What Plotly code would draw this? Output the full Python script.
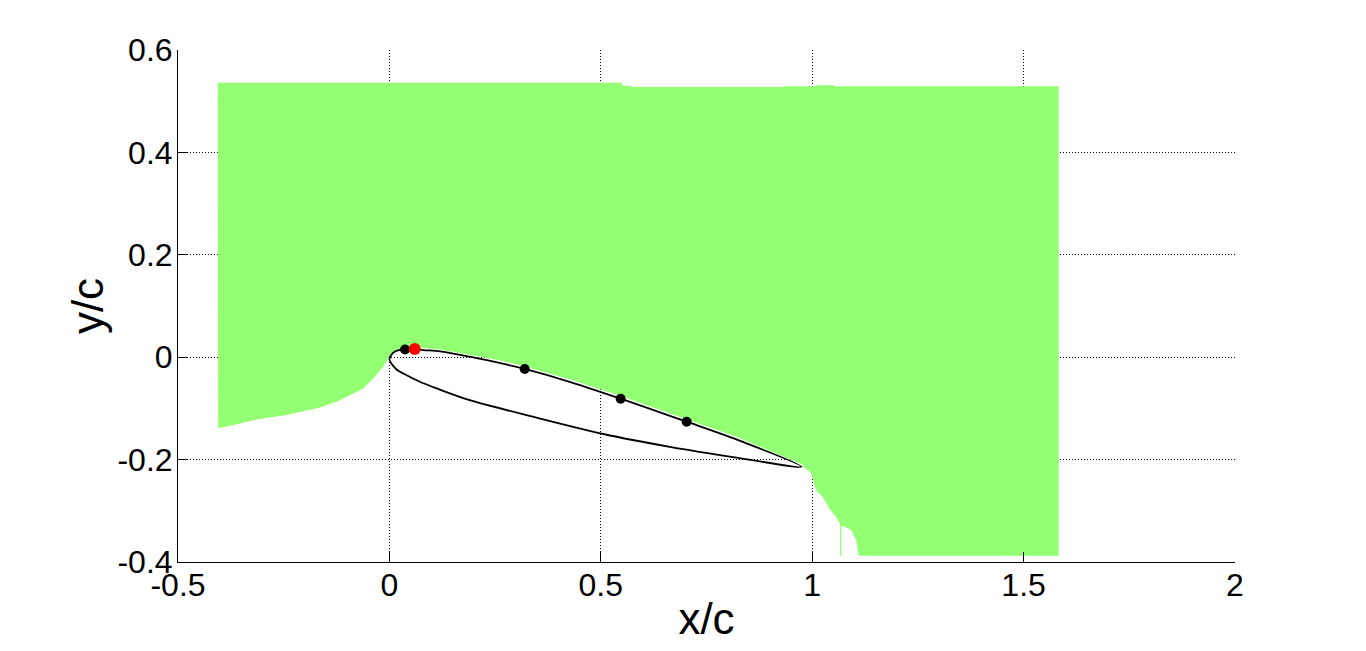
import plotly.graph_objects as go

# airfoil surfaces, leading edge -> trailing edge
upper_x = [0.0, 0.004, 0.013, 0.029, 0.045, 0.06, 0.08, 0.12, 0.19, 0.26, 0.32, 0.43, 0.547, 0.62, 0.703, 0.825, 0.975]
upper_y = [-0.004, 0.004, 0.011, 0.0155, 0.0162, 0.016, 0.014, 0.0115, 0.001, -0.011, -0.023, -0.049, -0.081, -0.102, -0.126, -0.162, -0.214]
lower_x = [0.0, 0.005, 0.017, 0.033, 0.072, 0.112, 0.19, 0.348, 0.506, 0.663, 0.821, 0.975]
lower_y = [-0.004, -0.013, -0.024, -0.032, -0.048, -0.061, -0.084, -0.118, -0.150, -0.175, -0.196, -0.214]

# probe points on the suction side
probe_x = [0.037, 0.32, 0.547, 0.703]
probe_y = [0.015, -0.023, -0.081, -0.126]
active_x = [0.060]
active_y = [0.016]

# green region outline, piece by piece
top_x = [-0.406, 0.536, 0.55, 0.55, 0.572, 0.572, 0.935, 0.935, 1.01, 1.01, 1.051, 1.051, 1.583]
top_y = [0.536, 0.536, 0.536, 0.530, 0.530, 0.5275, 0.5275, 0.529, 0.529, 0.531, 0.531, 0.529, 0.529]
right_x = [1.583, 1.110]
right_y = [-0.388, -0.388]
wake_x = [1.110, 1.104, 1.092, 1.076, 1.069, 1.069, 1.066, 1.066, 1.056, 1.04, 1.025, 1.009, 0.998, 0.978]
wake_y = [-0.388, -0.357, -0.338, -0.330, -0.330, -0.388, -0.388, -0.325, -0.312, -0.295, -0.273, -0.260, -0.227, -0.213]
edge_x = [0.978, 0.825, 0.703, 0.62, 0.547, 0.43, 0.32, 0.26, 0.19, 0.12, 0.08, 0.06, 0.045, 0.029, 0.013, 0.004, 0.0]
edge_y = [-0.210, -0.157, -0.121, -0.097, -0.076, -0.044, -0.018, -0.006, 0.005, 0.015, 0.018, 0.020, 0.020, 0.019, 0.013, 0.004, 0.001]
front_x = [-0.015, -0.038, -0.062, -0.093, -0.125, -0.164, -0.204, -0.243, -0.283, -0.322, -0.361, -0.405]
front_y = [-0.019, -0.041, -0.061, -0.074, -0.087, -0.098, -0.105, -0.113, -0.118, -0.123, -0.131, -0.139]

green = "#93FF72"
fnt = "Liberation Sans, Arial, sans-serif"

fig = go.Figure()

fig.add_trace(go.Scatter(
    x=top_x + right_x + wake_x + edge_x + front_x,
    y=top_y + right_y + wake_y + edge_y + front_y,
    fill="toself", fillcolor=green, mode="lines",
    line=dict(width=0, color=green), hoverinfo="skip",
))

fig.add_trace(go.Scatter(
    x=upper_x[::-1] + lower_x[1:],
    y=upper_y[::-1] + lower_y[1:],
    mode="lines", line=dict(color="black", width=1.8, shape="spline", smoothing=0.8),
))

fig.add_trace(go.Scatter(
    x=probe_x, y=probe_y, mode="markers",
    marker=dict(symbol="circle", size=10, color="black"),
))
fig.add_trace(go.Scatter(
    x=active_x, y=active_y, mode="markers",
    marker=dict(symbol="circle", size=12, color="red"),
))

axis_common = dict(
    showline=True, linecolor="black", linewidth=1,
    ticks="inside", ticklen=10, tickcolor="black", tickwidth=1,
    showgrid=True, gridcolor="black", gridwidth=1, griddash="1px,2px",
    zeroline=False, mirror=False, automargin=False,
    tickfont=dict(family=fnt, size=32, color="black"),
)

fig.update_xaxes(
    range=[-0.5, 2], tickvals=[-0.5, 0, 0.5, 1, 1.5, 2],
    ticktext=["-0.5", "0", "0.5", "1", "1.5", "2"],
    title=dict(text="x/c", font=dict(family=fnt, size=44, color="black"), standoff=0),
    ticklabelstandoff=-5,
    **axis_common,
)
fig.update_yaxes(
    range=[-0.4, 0.6], tickvals=[-0.4, -0.2, 0, 0.2, 0.4, 0.6],
    ticktext=["-0.4", "-0.2", "0", "0.2", "0.4", "0.6"],
    title=dict(text="y/c", font=dict(family=fnt, size=44, color="black"), standoff=0),
    ticklabelstandoff=-2,
    **axis_common,
)

# page body adds an 8px offset; margins compensate for it
fig.update_layout(
    width=1366, height=651,
    showlegend=False,
    plot_bgcolor="white", paper_bgcolor="white",
    margin=dict(l=170, r=139, t=42, b=97),
)

fig.write_html("out.html")
